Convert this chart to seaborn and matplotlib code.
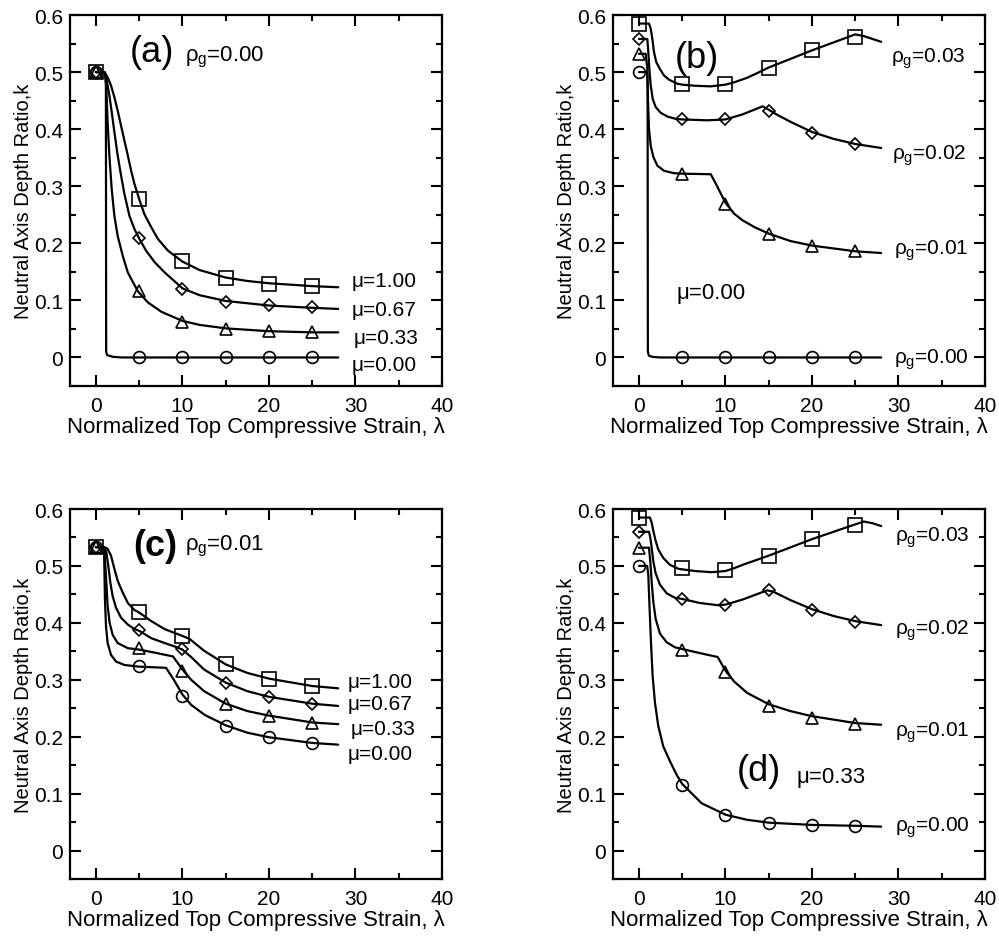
import numpy as np
import pandas as pd
import matplotlib
matplotlib.use("Agg")
import matplotlib.pyplot as plt
import seaborn as sns
from matplotlib.ticker import MultipleLocator, FixedLocator, FixedFormatter

# ---------------- data ----------------
mark_lam = [0, 5, 10, 15, 20, 25]

# Panel (a): rho_g = 0.00, mu varies
a_labels = ["\u03bc=1.00", "\u03bc=0.67", "\u03bc=0.33", "\u03bc=0.00"]
a_mu100_x = [0, 0.77, 1.05, 1.35, 1.74, 2.13, 2.51, 2.9, 3.29, 3.68, 4.07, 4.45, 5.03, 5.6, 6.4, 7.17, 8.33, 10, 12, 15, 17.5, 20, 25, 28]
a_mu100_y = [0.5, 0.5, 0.498, 0.491, 0.4765, 0.456, 0.4326, 0.406, 0.38, 0.354, 0.327, 0.304, 0.276, 0.251, 0.228, 0.2075, 0.187, 0.168, 0.153, 0.140, 0.134, 0.130, 0.125, 0.123]
a_mu067_x = [0, 0.96, 1.1, 1.28, 1.55, 1.82, 2.13, 2.51, 2.9, 3.29, 3.87, 4.45, 5.03, 5.8, 6.8, 7.94, 10, 12, 15, 20, 25, 28]
a_mu067_y = [0.5, 0.5, 0.495, 0.4825, 0.459, 0.43, 0.395, 0.354, 0.319, 0.2865, 0.248, 0.225, 0.2075, 0.187, 0.1667, 0.149, 0.121, 0.109, 0.099, 0.091, 0.087, 0.085]
a_mu033_x = [0, 1.0, 1.1, 1.2, 1.35, 1.55, 1.82, 2.13, 2.51, 3.1, 3.68, 4.84, 6.0, 7.56, 10, 12, 15, 20, 25, 28]
a_mu033_y = [0.5, 0.5, 0.49, 0.471, 0.412, 0.354, 0.295, 0.248, 0.213, 0.178, 0.149, 0.116, 0.0965, 0.080, 0.064, 0.057, 0.051, 0.046, 0.044, 0.044]
a_mu000_x = [0, 1.0, 1.1, 1.15, 1.18, 1.3, 2.0, 3.0, 28]
a_mu000_y = [0.5, 0.5, 0.497, 0.48, 0.01, 0.004, 0.001, 0.0, 0.0]
a_mark_100 = [0.5, 0.278, 0.169, 0.140, 0.129, 0.125]
a_mark_067 = [0.5, 0.209, 0.120, 0.098, 0.092, 0.088]
a_mark_033 = [0.5, 0.116, 0.062, 0.050, 0.046, 0.044]
a_mark_000 = [0.5, 0.0, 0.0, 0.0, 0.0, 0.0]

# Panel (b): mu = 0.00, rho_g varies
b_labels = ["$\\rho_{g}$=0.03", "$\\rho_{g}$=0.02", "$\\rho_{g}$=0.01", "$\\rho_{g}$=0.00"]
b_r03_x = [0, 1.16, 1.36, 1.55, 1.74, 2.0, 2.4, 2.9, 3.5, 4.45, 5, 6.5, 8.3, 10, 11, 12.5, 13.5, 15, 20, 25, 26, 28]
b_r03_y = [0.585, 0.585, 0.576, 0.558, 0.535, 0.5175, 0.506, 0.494, 0.4865, 0.4795, 0.478, 0.476, 0.475, 0.478, 0.482, 0.49, 0.497, 0.508, 0.538, 0.566, 0.563, 0.553]
b_r02_x = [0, 0.97, 1.08, 1.2, 1.36, 1.59, 1.94, 2.52, 3.3, 4.26, 5, 7.9, 10, 12, 14.3, 15, 16, 17.5, 20, 22.5, 25, 28]
b_r02_y = [0.558, 0.558, 0.535, 0.506, 0.4765, 0.453, 0.4386, 0.4286, 0.422, 0.418, 0.417, 0.4155, 0.417, 0.426, 0.440, 0.434, 0.425, 0.413, 0.395, 0.383, 0.374, 0.367]
b_r01_x = [0, 0.77, 0.97, 1.05, 1.16, 1.36, 1.67, 2.13, 2.9, 4.07, 5, 8.3, 9, 10, 11, 12, 13.4, 15, 17.5, 20, 25, 28]
b_r01_y = [0.532, 0.532, 0.506, 0.447, 0.4005, 0.371, 0.351, 0.336, 0.327, 0.3228, 0.322, 0.321, 0.301, 0.271, 0.252, 0.24, 0.228, 0.217, 0.204, 0.196, 0.186, 0.183]
b_r00_x = [0, 0.9, 0.97, 1.0, 1.03, 1.15, 1.6, 2.5, 28]
b_r00_y = [0.5, 0.5, 0.495, 0.47, 0.01, 0.003, 0.001, 0.0, 0.0]
b_mark_03 = [0.585, 0.479, 0.479, 0.508, 0.539, 0.561]
b_mark_02 = [0.558, 0.418, 0.418, 0.432, 0.394, 0.374]
b_mark_01 = [0.532, 0.322, 0.269, 0.216, 0.196, 0.186]
b_mark_00 = [0.5, 0.0, 0.0, 0.0, 0.0, 0.0]

# Panel (c): rho_g = 0.01, mu varies
c_mu100_x = [0, 0.97, 1.35, 1.74, 2.13, 2.51, 3.1, 3.68, 4.45, 5, 6.4, 7.94, 10, 10.8, 12.5, 15, 17.5, 20, 25, 28]
c_mu100_y = [0.533, 0.533, 0.53, 0.518, 0.495, 0.474, 0.453, 0.435, 0.4225, 0.418, 0.403, 0.389, 0.377, 0.372, 0.351, 0.327, 0.312, 0.302, 0.289, 0.285]
c_mu067_x = [0, 0.97, 1.2, 1.43, 1.66, 1.93, 2.32, 2.9, 3.68, 4.45, 5, 6.4, 7.94, 9, 10, 11, 12.5, 15, 17.5, 20, 25, 28]
c_mu067_y = [0.533, 0.533, 0.524, 0.5, 0.471, 0.447, 0.4265, 0.409, 0.397, 0.389, 0.386, 0.373, 0.3645, 0.359, 0.353, 0.34, 0.318, 0.295, 0.28, 0.27, 0.258, 0.254]
c_mu033_x = [0, 0.97, 1.04, 1.2, 1.35, 1.58, 1.93, 2.51, 3.68, 5, 7, 8.9, 10, 11, 12.5, 15, 17.5, 20, 25, 28]
c_mu033_y = [0.533, 0.533, 0.512, 0.471, 0.43, 0.4, 0.379, 0.3645, 0.3555, 0.353, 0.347, 0.341, 0.318, 0.30, 0.28, 0.258, 0.245, 0.237, 0.225, 0.222]
c_mu000_x = [0, 0.92, 0.97, 1.04, 1.16, 1.35, 1.74, 2.32, 3.29, 5, 8.1, 9, 10, 11, 12.6, 15, 17.5, 20, 25, 28]
c_mu000_y = [0.533, 0.533, 0.5, 0.441, 0.394, 0.3645, 0.3437, 0.332, 0.326, 0.323, 0.321, 0.30, 0.274, 0.256, 0.238, 0.220, 0.207, 0.199, 0.189, 0.186]
c_mark_100 = [0.533, 0.419, 0.377, 0.327, 0.302, 0.289]
c_mark_067 = [0.533, 0.388, 0.354, 0.294, 0.270, 0.258]
c_mark_033 = [0.533, 0.356, 0.316, 0.257, 0.2365, 0.224]
c_mark_000 = [0.533, 0.325, 0.272, 0.219, 0.199, 0.189]

# Panel (d): mu = 0.33, rho_g varies
d_r03_x = [0, 1.27, 1.47, 1.66, 1.93, 2.23, 2.81, 3.58, 4.55, 5, 6.5, 8.4, 10, 11, 12, 15, 20, 25, 26, 27, 28]
d_r03_y = [0.585, 0.585, 0.576, 0.5615, 0.544, 0.529, 0.514, 0.502, 0.495, 0.494, 0.491, 0.489, 0.491, 0.496, 0.502, 0.518, 0.547, 0.573, 0.578, 0.575, 0.570]
d_r02_x = [0, 1.16, 1.31, 1.47, 1.66, 1.93, 2.43, 3.2, 4.16, 5, 7, 9.1, 10, 12, 14.8, 15.5, 17.5, 20, 22.5, 25, 28]
d_r02_y = [0.56, 0.56, 0.55, 0.532, 0.508, 0.487, 0.467, 0.452, 0.444, 0.442, 0.435, 0.431, 0.432, 0.441, 0.457, 0.455, 0.44, 0.424, 0.412, 0.403, 0.396]
d_r01_x = [0, 1.16, 1.31, 1.47, 1.66, 1.93, 2.43, 3.2, 4.16, 5, 7, 9.1, 10, 11, 12.5, 15, 17.5, 20, 25, 28]
d_r01_y = [0.532, 0.532, 0.508, 0.472, 0.437, 0.407, 0.381, 0.366, 0.357, 0.354, 0.347, 0.340, 0.316, 0.297, 0.277, 0.257, 0.245, 0.236, 0.224, 0.221]
d_r00_x = [0, 0.95, 1.08, 1.23, 1.39, 1.58, 1.85, 2.23, 2.81, 3.58, 4.36, 5, 7.25, 10, 12.5, 15, 20, 25, 28]
d_r00_y = [0.5, 0.5, 0.484, 0.425, 0.366, 0.307, 0.26, 0.219, 0.183, 0.157, 0.133, 0.117, 0.083, 0.063, 0.054, 0.049, 0.045, 0.0435, 0.042]
d_mark_03 = [0.585, 0.496, 0.492, 0.518, 0.548, 0.572]
d_mark_02 = [0.56, 0.442, 0.431, 0.457, 0.4225, 0.402]
d_mark_01 = [0.532, 0.352, 0.313, 0.254, 0.2335, 0.2216]
d_mark_00 = [0.5, 0.116, 0.063, 0.049, 0.0445, 0.0435]

x_ticks = [0, 10, 20, 30, 40]
y_ticks = [0, 0.1, 0.2, 0.3, 0.4, 0.5, 0.6]
y_ticklabels = ["0", "0.1", "0.2", "0.3", "0.4", "0.5", "0.6"]
x_label = "Normalized Top Compressive Strain, \u03bb"
y_label = "Neutral Axis Depth Ratio,k"

# ---------------- style ----------------
sns.set_theme(style="ticks")
plt.rcParams["font.family"] = ["Liberation Sans", "DejaVu Sans"]
plt.rcParams["mathtext.fontset"] = "custom"
plt.rcParams["mathtext.rm"] = "Liberation Sans"
plt.rcParams["mathtext.it"] = "Liberation Sans"
plt.rcParams["mathtext.bf"] = "Liberation Sans:bold"
plt.rcParams["text.color"] = "black"
plt.rcParams["axes.labelcolor"] = "black"
plt.rcParams["xtick.color"] = "black"
plt.rcParams["ytick.color"] = "black"

FS_TICK = 15
FS_XLAB = 16
FS_YLAB = 14.5
FS_ANN = 15
fig = plt.figure(figsize=(9.99, 9.37), dpi=100)
W, H = 999.0, 937.0
pos = {
    "a": [70 / W, 1 - 387 / H, 372 / W, 371 / H],
    "b": [613 / W, 1 - 387 / H, 372 / W, 371 / H],
    "c": [70 / W, 1 - 880 / H, 372 / W, 370 / H],
    "d": [613 / W, 1 - 880 / H, 372 / W, 370 / H],
}
markers = ["s", "D", "^", "o"]
msizes = [9.5, 6.5, 8.5, 8.5]


def style_axes(ax):
    ax.set_xlim(-3, 40)
    ax.set_ylim(-0.05, 0.6)
    ax.xaxis.set_major_locator(FixedLocator(x_ticks))
    ax.xaxis.set_minor_locator(MultipleLocator(5))
    ax.yaxis.set_major_locator(FixedLocator(y_ticks))
    ax.yaxis.set_major_formatter(FixedFormatter(y_ticklabels))
    ax.yaxis.set_minor_locator(MultipleLocator(0.05))
    ax.tick_params(which="both", direction="in", top=True, right=True,
                   width=1.5, labelsize=FS_TICK, colors="black")
    ax.tick_params(which="major", length=8)
    ax.tick_params(which="minor", length=4.5)
    ax.tick_params(axis="y", pad=5)
    ax.tick_params(axis="x", pad=7)
    for s in ax.spines.values():
        s.set_linewidth(1.6)
        s.set_color("black")
        s.set_visible(True)
    ax.set_xlabel(x_label, fontsize=FS_XLAB, labelpad=1)
    ax.set_ylabel(y_label, fontsize=FS_YLAB, labelpad=1)
    ax.grid(False)


def draw(ax, lines, marks):
    for (lx, ly) in lines:
        sns.lineplot(x=lx, y=ly, ax=ax, color="black", linewidth=1.6,
                     estimator=None, sort=False, zorder=2)
    for my, mk, ms in zip(marks, markers, msizes):
        sns.lineplot(x=mark_lam, y=my, ax=ax, color="black", linestyle="",
                     marker=mk, markersize=ms, markerfacecolor="none",
                     markeredgecolor="black", markeredgewidth=1.2,
                     estimator=None, sort=False, zorder=3)


# (a)
ax = fig.add_axes(pos["a"])
draw(ax, [(a_mu100_x, a_mu100_y), (a_mu067_x, a_mu067_y), (a_mu033_x, a_mu033_y), (a_mu000_x, a_mu000_y)],
     [a_mark_100, a_mark_067, a_mark_033, a_mark_000])
style_axes(ax)
ax.text(3.9, 0.52, "(a)", fontsize=26)
ax.text(10.3, 0.52, "$\\rho_{g}$=0.00", fontsize=FS_ANN + 1)
for lab, xx, yy in zip(a_labels, [29.6, 29.6, 29.8, 29.6], [0.1246, 0.0742, 0.0246, -0.0217]):
    ax.text(xx, yy, lab, fontsize=FS_ANN)

# (b)
ax = fig.add_axes(pos["b"])
draw(ax, [(b_r03_x, b_r03_y), (b_r02_x, b_r02_y), (b_r01_x, b_r01_y), (b_r00_x, b_r00_y)],
     [b_mark_03, b_mark_02, b_mark_01, b_mark_00])
style_axes(ax)
ax.text(4.1, 0.509, "(b)", fontsize=26)
ax.text(4.3, 0.105, "\u03bc=0.00", fontsize=FS_ANN + 1)
for lab, xx, yy in zip(b_labels, [29.1, 29.3, 29.5, 29.5], [0.5175, 0.349, 0.181, -0.009]):
    ax.text(xx, yy, lab, fontsize=FS_ANN)

# (c)
ax = fig.add_axes(pos["c"])
draw(ax, [(c_mu100_x, c_mu100_y), (c_mu067_x, c_mu067_y), (c_mu033_x, c_mu033_y), (c_mu000_x, c_mu000_y)],
     [c_mark_100, c_mark_067, c_mark_033, c_mark_000])
style_axes(ax)
ax.text(4.3, 0.52, "(c)", fontsize=26, fontweight="bold")
ax.text(10.3, 0.529, "$\\rho_{g}$=0.01", fontsize=FS_ANN + 1)
for lab, xx, yy in zip(a_labels, [29.1, 29.1, 29.4, 29.1], [0.2867, 0.248, 0.204, 0.161]):
    ax.text(xx, yy, lab, fontsize=FS_ANN)

# (d)
ax = fig.add_axes(pos["d"])
draw(ax, [(d_r03_x, d_r03_y), (d_r02_x, d_r02_y), (d_r01_x, d_r01_y), (d_r00_x, d_r00_y)],
     [d_mark_03, d_mark_02, d_mark_01, d_mark_00])
style_axes(ax)
ax.text(11.3, 0.124, "(d)", fontsize=26)
ax.text(18.2, 0.121, "\u03bc=0.33", fontsize=FS_ANN + 1)
for lab, xx, yy in zip(b_labels, [29.6, 29.6, 29.6, 29.6], [0.544, 0.381, 0.201, 0.0355]):
    ax.text(xx, yy, lab, fontsize=FS_ANN)

fig.savefig("out.png", dpi=100)
